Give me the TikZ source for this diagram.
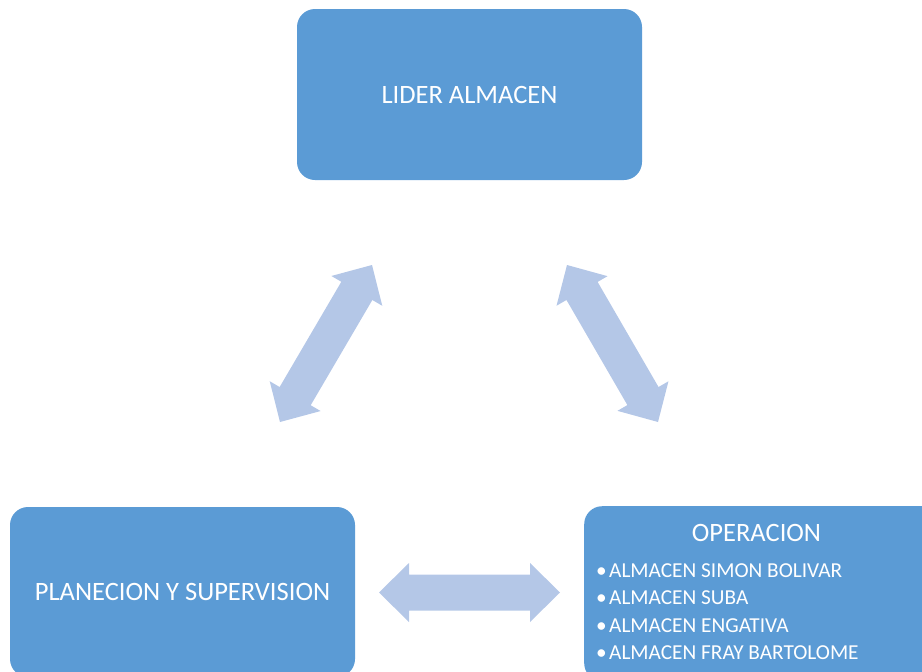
\documentclass[tikz,border=0pt]{standalone}
\usepackage{fontspec}
\setmainfont{Carlito}
\usetikzlibrary{calc}
\definecolor{azulcaja}{HTML}{5B9BD5}
\definecolor{azulflecha}{HTML}{B4C7E7}
\tikzset{
  caja/.style={fill=azulcaja, rounded corners=18pt, text=white,
    font=\fontsize{26.5}{32}\selectfont},
  item/.style={anchor=base west, text=white, inner sep=0pt,
    font=\fontsize{21.3}{26}\selectfont},
}
% wide double-headed arrow between two coordinates
\newcommand{\flechadoble}[2]{%
  \coordinate (h1) at ($(#1)!30pt!(#2)$);
  \coordinate (h2) at ($(#2)!30pt!(#1)$);
  \fill[azulflecha] (#1) -- ($(h1)!29.5pt!90:(#2)$) -- ($(h1)!18pt!90:(#2)$)
    -- ($(h2)!18pt!-90:(#1)$) -- ($(h2)!29.5pt!-90:(#1)$) -- (#2)
    -- ($(h2)!29.5pt!90:(#1)$) -- ($(h2)!18pt!90:(#1)$)
    -- ($(h1)!18pt!-90:(#2)$) -- ($(h1)!29.5pt!-90:(#2)$) -- cycle;
}
\begin{document}
\begin{tikzpicture}[x=1pt, y=-1pt]
    \clip (0,0) rectangle (922,672);
    % Boxes
    \node [caja, minimum width=345pt, minimum height=171pt] (lider) at (469.5,94.5) {LIDER ALMACEN};
    \node [caja, minimum width=345pt, minimum height=170pt] (planecion) at (182.5,592) {PLANECION Y SUPERVISION};
    \node [caja, minimum width=356pt, minimum height=175pt, anchor=north west] (operacion) at (584,506) {};
    \node [text=white, font=\fontsize{26.5}{32}\selectfont] (titulo) at (756.5,533) {OPERACION};
    \foreach \nombre [count=\i] in {ALMACEN SIMON BOLIVAR, ALMACEN SUBA, ALMACEN ENGATIVA, ALMACEN FRAY BARTOLOME} {
        \node [item] (alm\i) at (609, 577+27.5*\i-27.5) {\nombre};
        \node [item, anchor=base east, xshift=-2pt] (vin\i) at (alm\i.base west) {•};
    }

    % Arrow ends
    \coordinate (pl1) at (280,422);
    \coordinate (li1) at (372,265);
    \coordinate (li2) at (567,265);
    \coordinate (op1) at (658,422);
    \coordinate (pl2) at (379,592.5);
    \coordinate (op2) at (560,592.5);
    \flechadoble{pl1}{li1}
    \flechadoble{li2}{op1}
    \flechadoble{pl2}{op2}
\end{tikzpicture}
\end{document}
